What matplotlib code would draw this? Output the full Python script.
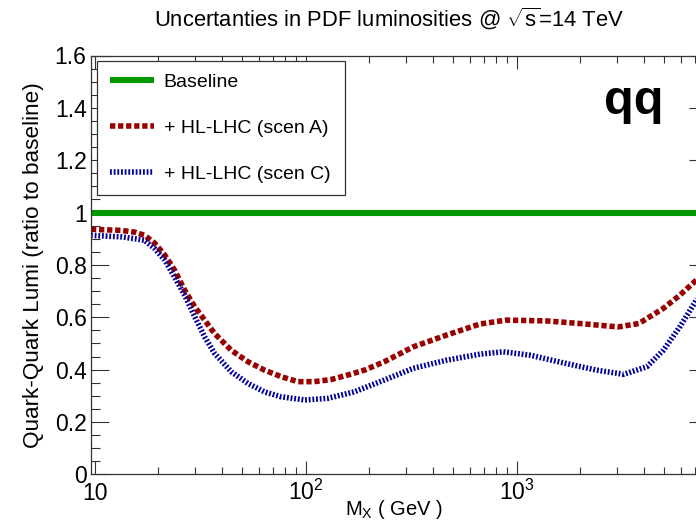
import matplotlib
matplotlib.use("Agg")
import matplotlib.pyplot as plt
from matplotlib.ticker import LogLocator, MultipleLocator, NullFormatter

plt.rcParams['font.family'] = ['Liberation Sans', 'DejaVu Sans']
plt.rcParams['mathtext.fontset'] = 'custom'
plt.rcParams['mathtext.rm'] = 'Liberation Sans'
plt.rcParams['mathtext.it'] = 'Liberation Sans:italic'
plt.rcParams['mathtext.bf'] = 'Liberation Sans:bold'

# valeurs
baseline_x = [9.57, 8000]
baseline_y = [1.0, 1.0]

mx_a = [9.6, 13.3, 15.5, 17.2, 19.2, 21.5, 23.9, 26.7, 29.8, 33.2, 37.0, 44.4, 53.3, 63.8,
        76.6, 91.8, 110, 132, 158, 190, 236, 324, 466, 670, 892, 1390, 2000, 3030, 3800,
        4970, 5940, 6970, 7300]
scen_a = [0.936, 0.932, 0.925, 0.913, 0.884, 0.837, 0.78, 0.703, 0.64, 0.589, 0.538, 0.474,
          0.43, 0.398, 0.373, 0.354, 0.354, 0.362, 0.379, 0.398, 0.43, 0.487, 0.532, 0.574,
          0.589, 0.586, 0.576, 0.563, 0.576, 0.634, 0.684, 0.735, 0.75]

mx_c = [9.6, 13.4, 15.5, 17.2, 19.2, 21.5, 23.9, 26.7, 29.8, 33.2, 37.0, 44.4, 53.3, 63.8,
        76.6, 99, 127, 170, 236, 324, 466, 670, 866, 1160, 1660, 2390, 3230, 4150, 4970,
        5940, 6970, 7300]
scen_c = [0.913, 0.907, 0.9, 0.894, 0.863, 0.818, 0.754, 0.684, 0.602, 0.525, 0.462, 0.392,
          0.347, 0.315, 0.296, 0.284, 0.29, 0.315, 0.36, 0.405, 0.436, 0.459, 0.468, 0.455,
          0.426, 0.398, 0.382, 0.411, 0.474, 0.563, 0.653, 0.68]

labels = ['Baseline', '+ HL-LHC (scen A)', '+ HL-LHC (scen C)']
xticks = [10, 100, 1000]
xticklabels = ['10', r'$10^{2}$', r'$10^{3}$']
yticks = [0, 0.2, 0.4, 0.6, 0.8, 1.0, 1.2, 1.4, 1.6]
yticklabels = ['0', '0.2', '0.4', '0.6', '0.8', '1', '1.2', '1.4', '1.6']

W, H = 696, 524
fig = plt.figure(figsize=(W / 100, H / 100), dpi=100)
ax = fig.add_axes([90.7 / W, (H - 474.3) / H, (707 - 90.7) / W, (474.3 - 55.5) / H])

ax.plot(baseline_x, baseline_y, color='#009900', lw=4.4, solid_capstyle='butt', label=labels[0])
ax.plot(mx_a, scen_a, color='#990000', lw=4.0, dashes=(0.95, 0.5), dash_capstyle='butt',
        label=labels[1])
ax.plot(mx_c, scen_c, color='#000099', lw=4.0, dashes=(0.33, 0.33), dash_capstyle='butt',
        label=labels[2])

ax.set_xscale('log')
ax.set_xlim(9.57, 8000)
ax.set_ylim(0, 1.6)
ax.set_xticks(xticks)
ax.set_xticklabels(xticklabels)
ax.xaxis.set_minor_locator(LogLocator(base=10, subs=range(2, 10)))
ax.xaxis.set_minor_formatter(NullFormatter())
ax.set_yticks(yticks)
ax.set_yticklabels(yticklabels)
ax.yaxis.set_minor_locator(MultipleLocator(0.05))

ax.tick_params(which='both', direction='in', top=True, right=True, width=0.8, color='#333333',
               labelsize=16.5)
ax.tick_params(axis='x', which='major', length=9.4, pad=18.5)
ax.tick_params(axis='x', which='minor', length=5)
ax.tick_params(axis='y', which='major', length=13, pad=3)
ax.tick_params(axis='y', which='minor', length=6.5)
for t in ax.get_xticklabels():
    t.set_verticalalignment('baseline')
for s in ax.spines.values():
    s.set_linewidth(0.9)
    s.set_color('#333333')

leg = ax.legend(loc='upper left', bbox_to_anchor=(97.3 / W, 1 - 195.7 / H, (344.7 - 97.3) / W, 135 / H),
                bbox_transform=fig.transFigure, mode='expand', borderaxespad=0, fontsize=14,
                handlelength=2.27, handletextpad=0.5, borderpad=0.65, labelspacing=1.45,
                fancybox=False, framealpha=1, edgecolor='#333333')
leg.get_frame().set_linewidth(0.9)

fig.text(388.5 / W, 1 - 18 / H, r'Uncertanties in PDF luminosities @ $\sqrt{\mathrm{s}}$=14 TeV',
         ha='center', va='center', fontsize=15.8)
fig.text(634 / W, 1 - 114 / H, 'qq', ha='center', va='baseline', fontsize=35, weight='bold')
fig.text(394 / W, 1 - 515 / H, r'M$_{\mathrm{X}}$ ( GeV )', ha='center', va='baseline', fontsize=14.5)
fig.text(34 / W, 1 - 265 / H, 'Quark-Quark Lumi (ratio to baseline)', rotation=90,
         ha='center', va='center', fontsize=16.2)

fig.savefig('out.png', dpi=100)
